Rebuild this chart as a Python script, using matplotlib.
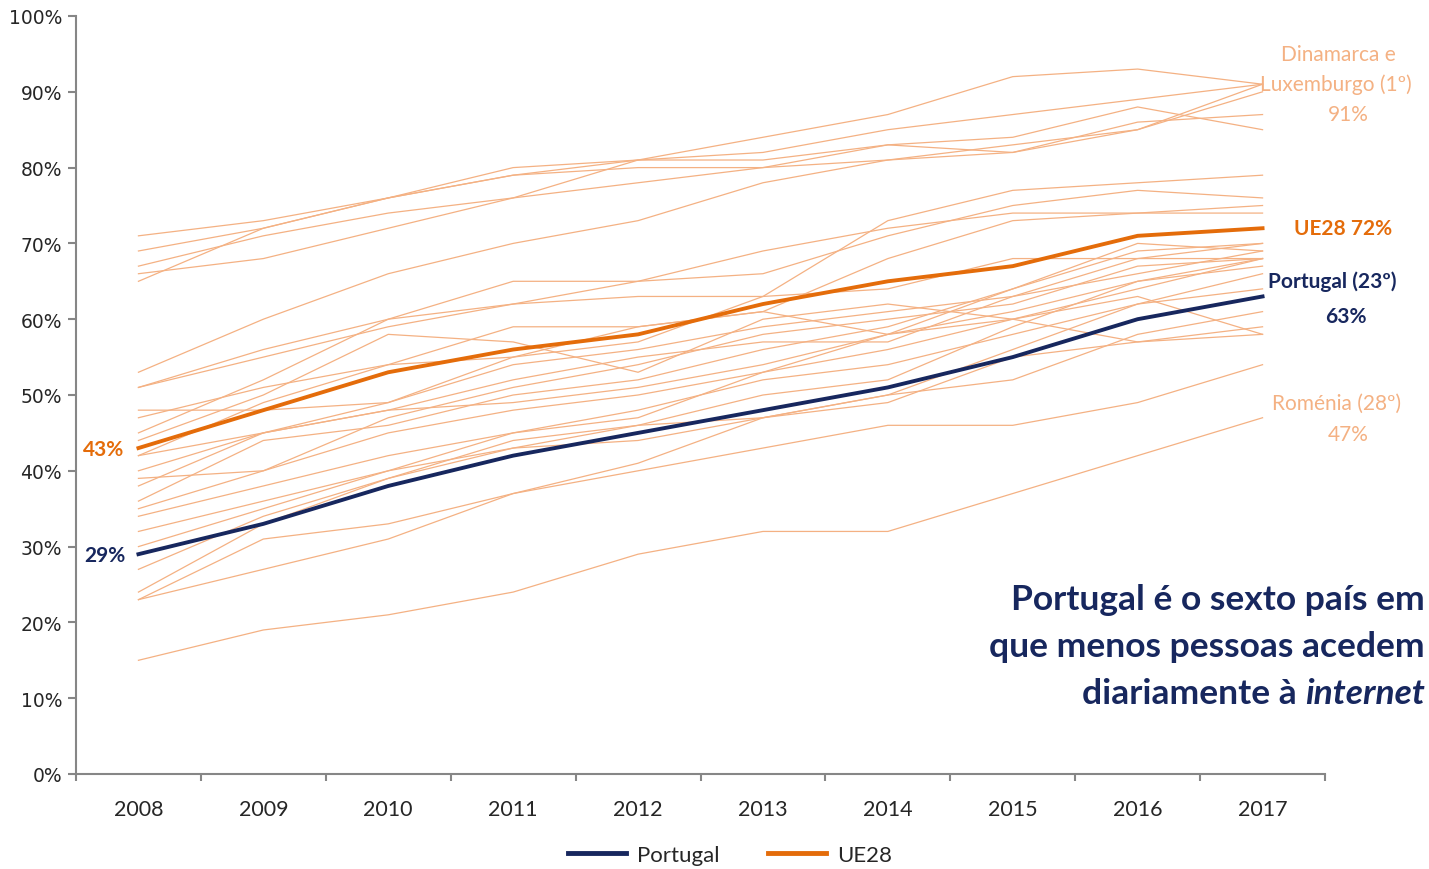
import matplotlib.pyplot as plt
from matplotlib.lines import Line2D

years = ['2008', '2009', '2010', '2011', '2012', '2013', '2014', '2015', '2016', '2017']

portugal = [29, 33, 38, 42, 45, 48, 51, 55, 60, 63]
ue28 = [43, 48, 53, 56, 58, 62, 65, 67, 71, 72]

# outros estados-membros (linhas finas)
others = [
    [71, 73, 76, 80, 81, 82, 85, 87, 89, 91],
    [67, 71, 74, 76, 81, 84, 87, 92, 93, 91],
    [69, 72, 76, 79, 81, 81, 83, 82, 86, 87],
    [66, 68, 72, 76, 78, 80, 83, 84, 88, 85],
    [65, 72, 76, 79, 80, 80, 81, 83, 85, 91],
    [53, 60, 66, 70, 73, 78, 81, 82, 85, 90],
    [51, 56, 60, 65, 65, 66, 71, 75, 77, 76],
    [51, 55, 59, 62, 65, 69, 72, 74, 74, 75],
    [48, 48, 49, 55, 59, 61, 68, 73, 74, 74],
    [42, 49, 54, 55, 57, 63, 73, 77, 78, 79],
    [45, 52, 60, 62, 63, 63, 64, 68, 68, 70],
    [44, 50, 58, 57, 53, 60, 62, 60, 63, 58],
    [47, 51, 54, 59, 59, 61, 58, 64, 70, 69],
    [40, 45, 49, 54, 56, 59, 61, 63, 68, 68],
    [39, 40, 47, 51, 54, 58, 60, 62, 67, 68],
    [38, 45, 48, 52, 55, 57, 57, 63, 66, 69],
    [36, 44, 46, 50, 52, 56, 59, 64, 69, 70],
    [35, 40, 45, 48, 50, 53, 56, 60, 64, 68],
    [34, 38, 42, 45, 47, 53, 58, 61, 65, 68],
    [32, 36, 40, 45, 48, 52, 54, 58, 62, 66],
    [30, 35, 40, 43, 46, 47, 50, 56, 62, 64],
    [27, 34, 39, 44, 46, 50, 52, 59, 65, 67],
    [24, 33, 39, 43, 44, 47, 50, 52, 58, 61],
    [23, 31, 33, 37, 41, 47, 49, 55, 57, 59],
    [23, 27, 31, 37, 40, 43, 46, 46, 49, 54],
    [15, 19, 21, 24, 29, 32, 32, 37, 42, 47],
    [42, 45, 48, 49, 51, 54, 58, 60, 57, 58],
]

navy = '#17275E'
orange = '#E46C0A'
light = '#F4B183'
axis_grey = '#868686'
font = ['Lato', 'DejaVu Sans']

fig = plt.figure(figsize=(14.29, 8.70), dpi=100)
ax = fig.add_axes([76 / 1429, 95 / 870, 1249 / 1429, 758 / 870])

x = list(range(len(years)))
for s in others:
    ax.plot(x, s, color=light, lw=0.9, zorder=1)
ax.plot(x, ue28, color=orange, lw=2.8, zorder=3)
ax.plot(x, portugal, color=navy, lw=2.8, zorder=4)

ax.set_xlim(-0.5, 9.5)
ax.set_ylim(0, 100)
ax.set_yticks(range(0, 101, 10))
ax.set_yticklabels([f'{v}%' for v in range(0, 101, 10)], fontsize=13.5,
                   family='DejaVu Sans', color='#262626')
ax.set_xticks(x)
ax.set_xticklabels(years, fontsize=15.5, family=font, color='#262626')
ax.set_xticks([i + 0.5 for i in range(-1, 10)], minor=True)
ax.tick_params(axis='x', which='major', length=0, pad=18)
ax.tick_params(axis='x', which='minor', length=5, width=1.5, color=axis_grey)
ax.tick_params(axis='y', length=6, width=1.5, color=axis_grey, pad=4)
for side in ['top', 'right']:
    ax.spines[side].set_visible(False)
for side in ['left', 'bottom']:
    ax.spines[side].set_color(axis_grey)
    ax.spines[side].set_linewidth(1.5)

# etiquetas
def ftxt(px, py, s, **kw):
    return fig.text(px / 1429, 1 - py / 870, s, family=font, **kw)

ftxt(104, 450, '43%', color=orange, fontsize=15, fontweight='bold', ha='center', va='center')
ftxt(105, 556, '29%', color=navy, fontsize=15, fontweight='bold', ha='center', va='center')
ftxt(1338, 55, 'Dinamarca e', color=light, fontsize=15, ha='center', va='center')
ftxt(1336, 85, 'Luxemburgo (1º)', color=light, fontsize=15, ha='center', va='center')
ftxt(1348, 115, '91%', color=light, fontsize=15, ha='center', va='center')
ftxt(1343, 229, 'UE28 72%', color=orange, fontsize=15, fontweight='bold', ha='center', va='center')
ftxt(1332, 282, 'Portugal (23º)', color=navy, fontsize=15, fontweight='bold', ha='center', va='center')
ftxt(1346, 317, '63%', color=navy, fontsize=15, fontweight='bold', ha='center', va='center')
ftxt(1337, 404, 'Roménia (28º)', color=light, fontsize=15, ha='center', va='center')
ftxt(1348, 435, '47%', color=light, fontsize=15, ha='center', va='center')

big = dict(color=navy, fontsize=25.5, fontweight='bold', ha='right', va='baseline')
ftxt(1425, 610, 'Portugal é o sexto país em', **big)
ftxt(1425, 657, 'que menos pessoas acedem', **big)
t_int = ftxt(1425, 704, 'internet', style='italic', **big)
fig.canvas.draw()
bb = t_int.get_window_extent()
fig.text(bb.x0 / fig.bbox.width, 1 - 704 / 870, 'diariamente à ', family=font, **big)

handles = [Line2D([], [], color=navy, lw=3.5), Line2D([], [], color=orange, lw=3.5)]
fig.legend(handles, ['Portugal', 'UE28'], loc='center', ncol=2, frameon=False,
           bbox_to_anchor=(730 / 1429, 1 - 856 / 870), handlelength=2.6, handletextpad=0.5,
           columnspacing=2.2, prop={'family': font, 'size': 16}, labelcolor='#262626')

fig.savefig('out.png', dpi=100)
